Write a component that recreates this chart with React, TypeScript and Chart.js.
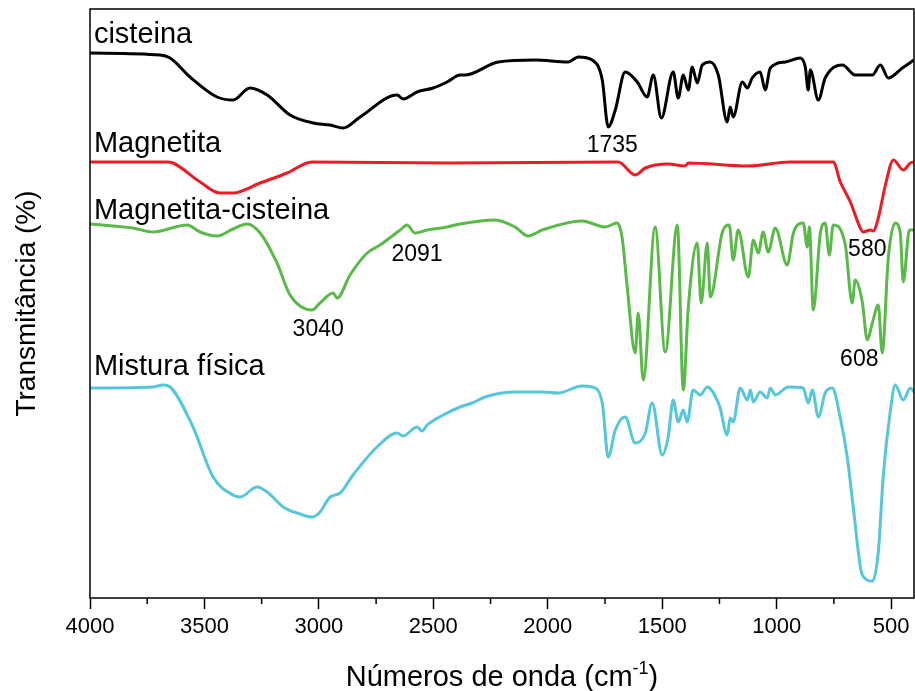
import { useEffect, useRef } from "react";
import { Chart, registerables } from "chart.js";

Chart.register(...registerables);

// Wavenumber axis (cm-1)
const X_MAJOR = [500, 1000, 1500, 2000, 2500, 3000, 3500, 4000];
const X_MINOR = [750, 1250, 1750, 2250, 2750, 3250, 3750];

// cisteina
const WN_CIS = [4000,3694,3650,3563,3445,3375,3301,3226,3126,3025,2951,2894,2820,2658,2632,2571,2501,2440,2383,2361,2217,2055,1911,1867,1806,1762,1736,1705,1662,1609,1566,1539,1504,1452,1430,1408,1386,1369,1347,1325,1290,1255,1216,1203,1190,1150,1128,1107,1072,1050,1028,962,897,875,862,853,818,788,713,657,582,547,512,451,400];
const T_CIS = [545,543,540,521,501,498,510,503,483,475,473,470,481,503,499,506,510,516,523,523,536,538,536,541,538,518,471,488,526,516,501,523,480,526,500,523,508,531,515,533,536,523,476,491,481,516,510,520,526,508,530,536,540,531,508,528,498,520,533,523,523,533,520,530,538];

// Magnetita
const WN_MAG = [4000,3663,3637,3519,3432,3375,3257,3139,3030,2427,1692,1618,1574,1474,1400,1386,1124,941,753,722,678,635,622,591,578,556,525,490,447,416,400];
const T_MAG = [436,436,435,416,405,405,415,425,436,435,436,423,430,434,432,435,432,436,436,416,396,370,366,368,367,380,413,438,428,435,436];

// Magnetita-cisteina
const WN_MC = [4000,3812,3725,3576,3519,3445,3375,3314,3257,3183,3126,3030,2995,2938,2920,2864,2789,2733,2645,2615,2580,2527,2440,2383,2230,2143,2086,2024,1850,1749,1697,1675,1653,1618,1605,1583,1531,1487,1434,1408,1386,1347,1330,1303,1290,1238,1207,1190,1168,1124,1102,1080,1059,1037,1006,954,927,884,866,857,840,809,788,770,753,700,670,657,626,604,582,556,539,512,482,460,447,420,400];
const T_MC = [374,370,366,373,366,362,369,374,365,335,303,288,295,305,300,323,345,353,368,373,365,368,371,374,378,371,362,368,377,371,375,360,311,245,285,218,371,246,373,208,291,355,295,355,301,365,373,338,368,321,358,345,366,346,370,333,365,375,351,371,288,365,375,343,373,353,295,318,296,258,275,293,245,341,375,365,316,368,368];

// Mistura física
const WN_MF = [4000,3725,3681,3650,3550,3462,3375,3344,3270,3226,3156,3082,3030,2995,2951,2907,2851,2746,2658,2632,2571,2549,2527,2457,2383,2330,2274,2143,2024,1955,1850,1806,1762,1736,1705,1662,1618,1574,1544,1500,1474,1452,1430,1408,1391,1365,1334,1303,1260,1247,1216,1203,1190,1159,1128,1115,1102,1072,1041,1028,1006,949,884,862,844,818,788,757,722,691,665,626,582,556,534,504,482,447,416,400];
const T_MF = [210,211,213,211,171,121,103,101,111,106,91,84,81,86,101,105,123,151,165,162,171,167,173,183,191,195,201,206,206,205,212,211,195,141,168,181,155,165,195,143,161,198,176,188,176,208,203,211,198,190,163,180,176,210,198,208,196,206,200,210,203,211,210,195,208,181,205,210,180,140,90,23,17,46,123,186,213,198,210,206];

const SERIES_NAMES = ["cisteina", "Magnetita", "Magnetita-cisteina", "Mistura física"];
const SERIES_COLORS = ["#000000", "#ec1c24", "#5bb94a", "#56c6da"];
const SERIES_LABEL_WN = [3983, 3983, 3983, 3983];
const SERIES_LABEL_T = [555, 446, 379, 223];

const PEAK_TEXT = ["1735", "3040", "2091", "580", "608"];
const PEAK_WN = [1718, 3003, 2571, 604, 639];
const PEAK_T = [446, 262, 337, 342, 232];

const FONT = "'Liberation Sans', Arial, sans-serif";

export default function App() {
  const ref = useRef<HTMLCanvasElement>(null);

  useEffect(() => {
    const canvas = ref.current;
    if (!canvas) return;
    const mk = (wn: number[], t: number[]) => wn.map((x, i) => ({ x, y: t[i] }));
    const sets = [mk(WN_CIS, T_CIS), mk(WN_MAG, T_MAG), mk(WN_MC, T_MC), mk(WN_MF, T_MF)];

    const overlay = {
      id: "overlay",
      afterDraw(chart: any) {
        const { ctx, chartArea: a, scales } = chart;
        const x = scales.x;
        const y = scales.y;
        ctx.save();
        ctx.strokeStyle = "#000";
        ctx.lineWidth = 1.5;
        ctx.strokeRect(a.left, a.top, a.right - a.left, a.bottom - a.top);
        ctx.beginPath();
        X_MINOR.forEach((v) => {
          const px = x.getPixelForValue(v);
          ctx.moveTo(px, a.bottom);
          ctx.lineTo(px, a.bottom + 6);
        });
        ctx.stroke();

        ctx.fillStyle = "#000";
        ctx.textBaseline = "alphabetic";
        ctx.textAlign = "left";
        ctx.font = `29px ${FONT}`;
        SERIES_NAMES.forEach((n, i) => {
          ctx.fillText(n, x.getPixelForValue(SERIES_LABEL_WN[i]), y.getPixelForValue(SERIES_LABEL_T[i]));
        });
        ctx.textAlign = "center";
        ctx.font = `23px ${FONT}`;
        PEAK_TEXT.forEach((t, i) => {
          ctx.fillText(t, x.getPixelForValue(PEAK_WN[i]), y.getPixelForValue(PEAK_T[i]));
        });

        // x axis title with superscript
        const main = "Números de onda (cm";
        const sup = "-1";
        const close = ")";
        ctx.textAlign = "left";
        ctx.font = `29px ${FONT}`;
        const wMain = ctx.measureText(main).width;
        const wClose = ctx.measureText(close).width;
        ctx.font = `18px ${FONT}`;
        const wSup = ctx.measureText(sup).width;
        const total = wMain + wSup + wClose;
        const cx = (a.left + a.right) / 2;
        let sx = cx - total / 2;
        const base = 686;
        ctx.font = `29px ${FONT}`;
        ctx.fillText(main, sx, base);
        sx += wMain;
        ctx.font = `18px ${FONT}`;
        ctx.fillText(sup, sx, base - 12);
        sx += wSup;
        ctx.font = `29px ${FONT}`;
        ctx.fillText(close, sx, base);
        ctx.restore();
      },
    };

    const chart = new Chart(canvas, {
      type: "line",
      data: {
        datasets: sets.map((d, i) => ({
          label: SERIES_NAMES[i],
          data: d,
          borderColor: SERIES_COLORS[i],
          backgroundColor: SERIES_COLORS[i],
          borderWidth: 3,
          pointRadius: 0,
          cubicInterpolationMode: "monotone" as const,
          fill: false,
        })),
      },
      options: {
        responsive: false,
        animation: false,
        devicePixelRatio: 1,
        layout: { padding: { top: 9, right: 1, left: 0, bottom: 0 } },
        plugins: { legend: { display: false }, tooltip: { enabled: false } },
        scales: {
          x: {
            type: "linear",
            reverse: true,
            min: 400,
            max: 4000,
            afterBuildTicks: (s: any) => {
              s.ticks = X_MAJOR.map((v) => ({ value: v }));
            },
            afterFit: (s: any) => {
              s.height = 93;
            },
            ticks: {
              color: "#000",
              font: { family: FONT, size: 22 },
              padding: 5,
              maxRotation: 0,
              autoSkip: false,
              callback: (v: any) => String(v),
            },
            grid: {
              drawOnChartArea: false,
              drawTicks: true,
              tickLength: 11,
              tickColor: "#000",
              tickWidth: 1.5,
            },
            border: { display: false },
          },
          y: {
            type: "linear",
            min: 0,
            max: 589,
            ticks: { display: false },
            grid: { display: false },
            border: { display: false },
            afterFit: (s: any) => {
              s.width = 90;
            },
            title: {
              display: true,
              text: "Transmitância (%)",
              color: "#000",
              font: { family: FONT, size: 28, weight: "normal" },
              padding: { top: 10, bottom: 0 },
            },
          },
        },
      },
      plugins: [overlay],
    });
    return () => chart.destroy();
  }, []);

  return (
    <div style={{ position: "fixed", left: 0, top: 0, width: 915, height: 691, background: "#fff" }}>
      <canvas ref={ref} width={915} height={691} style={{ display: "block" }} />
    </div>
  );
}
